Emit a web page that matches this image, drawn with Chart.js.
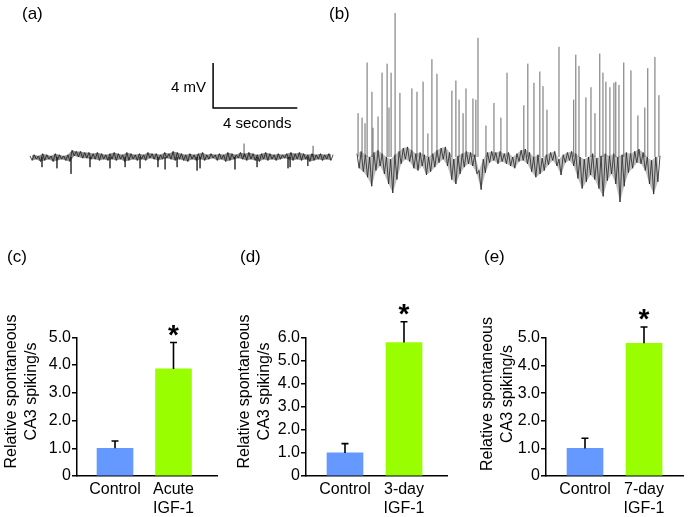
<!DOCTYPE html>
<html>
<head>
<meta charset="utf-8">
<script src="https://cdn.jsdelivr.net/npm/chart.js@4.4.0/dist/chart.umd.min.js"></script>
<style>
  body { margin: 0; background: #fff; }
  #fig { position: relative; width: 690px; height: 517px; overflow: hidden; font-family: 'Liberation Sans', Arial, sans-serif; }
  canvas { position: absolute; }
  .panel { position: absolute; font-size: 17px; line-height: 17px; color: #000; }
</style>
</head>
<body>
<div id="fig">
  <canvas id="traceA" width="315" height="220" style="left:25px;top:0"></canvas>
  <canvas id="traceB" width="320" height="220" style="left:350px;top:0"></canvas>
  <canvas id="barC" width="225" height="287" style="left:0;top:230px"></canvas>
  <canvas id="barD" width="225" height="287" style="left:230px;top:230px"></canvas>
  <canvas id="barE" width="230" height="287" style="left:460px;top:230px"></canvas>
  <div class="panel" style="left:22px;top:5px">(a)</div>
  <div class="panel" style="left:329px;top:5px">(b)</div>
  <div class="panel" style="left:7px;top:248px">(c)</div>
  <div class="panel" style="left:240px;top:248px">(d)</div>
  <div class="panel" style="left:484px;top:248px">(e)</div>
</div>
<script>
Chart.defaults.font.family = "'Liberation Sans', Arial, sans-serif";
Chart.defaults.color = '#000';

// recordings: mV against seconds, noise band read as upper / lower edge every 0.2 s
const bandStep = 0.2;

// (a) control slice
const traceATop = [0.1,0.2,0.1,0.3,0.2,0.1,0.3,0.2,0.1,0.2, 0.6,0.5,0.5,0.4,0.4,0.3,0.4,0.3,0.2,0.3,
  0.4,0.3,0.2,0.4,0.3,0.2,0.3,0.2,0.4,0.3, 0.3,0.2,0.4,0.3,0.5,0.4,0.3,0.2,0.3,0.2,
  0.3,0.4,0.2,0.3,0.2,0.3,0.2,0.4,0.3,0.2, 0.4,0.3,0.4,0.3,0.2,0.3,0.4,0.3,0.2,0.3,
  0.2,0.3,0.4,0.3,0.4,0.3,0.2,0.3,0.2,0.3, 0.2,0.3,0.2];
const traceABottom = [-0.3,-0.2,-0.4,-0.3,-0.2,-0.4,-0.3,-0.2,-0.3,-0.4, 0.1,0.0,-0.1,-0.1,-0.2,-0.2,-0.3,-0.2,-0.3,-0.2,
  -0.3,-0.2,-0.4,-0.3,-0.2,-0.3,-0.2,-0.3,-0.1,-0.2, -0.3,-0.2,-0.1,-0.2,-0.3,-0.2,-0.3,-0.4,-0.2,-0.3,
  -0.2,-0.3,-0.2,-0.1,-0.3,-0.2,-0.4,-0.3,-0.2,-0.1, -0.2,-0.3,-0.2,-0.3,-0.4,-0.2,-0.3,-0.2,-0.3,-0.2,
  -0.1,-0.2,-0.3,-0.2,-0.3,-0.2,-0.4,-0.3,-0.2,-0.3, -0.2,-0.3];
const traceASpikeT = [0.57,1.28,1.95,2.85,3.80,4.52,5.23,6.08,6.42,6.99,7.94,8.08,9.74,10.79,12.26,12.36,13.20,10.17,13.45];
const traceASpikeV = [-0.9,-1.0,-1.5,-0.9,-1.0,-0.9,-1.0,-0.9,-1.1,-0.9,-1.2,-1.0,-1.1,-0.9,-1.0,-0.9,-0.8,1.2,1.0];

// (b) IGF-1 slice
const traceBTop = [0.3,0.5,0.2,0.0,0.4,0.6,0.3,0.0,-0.2,0.2, 0.5,0.8,0.9,0.6,0.3,0.4,0.2,0.0,0.3,0.6,
  0.8,0.9,0.4,-0.2,0.1,0.3,0.5,0.4,0.2,-1.2, -0.2,0.4,0.5,0.4,0.5,0.3,0.4,0.0,0.3,0.6,
  0.7,0.4,0.0,0.2,-0.1,0.2,0.4,0.5,-0.2,0.2, 0.4,0.5,0.3,0.0,-0.2,0.0,0.3,-0.1,0.1,0.3,
  0.1,0.3,0.0,0.2,0.4,0.3,0.5,0.7,0.4,0.0, -0.3,0.0,0.1];
const traceBBottom = [-1.0,-1.3,-1.8,-2.6,-1.2,-0.8,-1.5,-2.4,-3.2,-2.0, -0.6,-0.2,-0.4,-1.0,-1.2,-0.8,-1.6,-1.3,-0.9,-0.5,
  -0.2,-0.8,-2.0,-2.4,-1.5,-0.9,-0.6,-0.8,-1.5,-2.9, -1.4,-0.5,-0.3,-0.6,-0.4,-0.6,-0.8,-1.0,-0.4,-0.3,
  -0.6,-1.3,-1.8,-1.5,-1.2,-0.7,-0.3,-0.8,-1.6,-0.5, -0.3,-0.8,-1.9,-2.8,-2.2,-1.6,-2.0,-2.8,-3.5,-2.1,
  -1.5,-2.4,-4.0,-2.6,-1.4,-1.0,-0.5,-0.6,-1.2,-2.4, -3.3,-2.2];
const traceBSpikeT = [0.05,0.24,0.38,0.48,0.71,0.76,1.00,1.19,1.43,1.52,1.62,1.81,2.04,2.61,2.85,3.14,3.37,3.56,3.80,4.51,
  4.70,4.85,5.04,5.18,5.51,5.65,5.75,6.13,6.51,6.84,7.13,7.93,8.12,8.41,8.69,8.84,9.03,9.60,10.30,10.40,
  10.55,10.88,11.12,11.31,11.54,11.69,11.83,12.02,12.21,12.30,12.45,12.68,13.02,13.35,13.68,13.82,14.16,14.35];
const traceBSpikeV = [3.9,3.5,3.0,8.4,5.8,2.6,3.6,7.5,8.3,4.4,7.5,12.8,5.7,6.1,5.8,6.7,2.1,8.7,7.4,5.9,
  6.8,5.1,3.9,6.1,5.2,5.1,10.6,2.8,4.8,3.5,7.5,4.6,8.3,6.6,7.6,6.3,4.2,9.8,5.1,9.1,
  8.1,5.3,6.2,3.9,9.2,7.5,6.7,6.2,6.6,6.7,6.4,8.4,7.7,3.7,4.4,7.9,8.9,5.5];

// scale bar: 4 s by 4 mV, corner at (8.7 s, 4.36 mV)
const scaleBarAt = [8.7, 4.36];
const scaleBarSec = 4;
const scaleBarMV = 4;

// bar panels, relative spiking
const yTitle = ['Relative spontaneous', 'CA3 spiking/s'];
const barColors = ['#6699ff', '#99ff00'];
const catsC = [['Control'], ['Acute', 'IGF-1']];
const meanC = [1.0, 3.86];
const errC = [1.26, 4.81];
const starC = [false, true];
const catsD = [['Control'], ['3-day', 'IGF-1']];
const meanD = [1.0, 5.77];
const errD = [1.40, 6.67];
const starD = [false, true];
const catsE = [['Control'], ['7-day', 'IGF-1']];
const meanE = [1.0, 4.81];
const errE = [1.37, 5.40];
const starE = [false, true];

function bandPoints(top, bottom) {
    const pts = [];
    for (let i = 0; i < top.length; i++) {
        pts.push({ x: i * bandStep, y: top[i] });
        if (i < bottom.length) pts.push({ x: i * bandStep + bandStep / 2, y: bottom[i] });
    }
    return pts;
}

function edgePoints(values, shift) {
    return values.map((v, i) => ({ x: i * bandStep + shift, y: v }));
}

function spikePoints(times, peaks) {
    const pts = [];
    times.forEach((t, i) => {
        pts.push({ x: t, y: 0 }, { x: t, y: peaks[i] }, { x: t, y: null });
    });
    return pts;
}

// filled band between the two edges plus the zig-zag line on top
function bandSets(top, bottom, fillColor, lineColor, lineWidth) {
    return [
        { data: edgePoints(top, 0), borderWidth: 0, borderColor: 'rgba(0,0,0,0)', fill: false },
        { data: edgePoints(bottom, bandStep / 2), borderWidth: 0, borderColor: 'rgba(0,0,0,0)', fill: '-1', backgroundColor: fillColor },
        { data: bandPoints(top, bottom), borderColor: lineColor, borderWidth: lineWidth, fill: false }
    ];
}

function makeTrace(id, datasets, xMin, xMax, plugins) {
    return new Chart(document.getElementById(id), {
        type: 'line',
        data: { datasets: datasets },
        options: {
            responsive: false,
            animation: false,
            events: [],
            layout: { padding: 0 },
            plugins: { legend: { display: false }, tooltip: { enabled: false } },
            elements: { point: { radius: 0 }, line: { tension: 0 } },
            scales: {
                x: { type: 'linear', min: xMin, max: xMax, display: false },
                y: { type: 'linear', min: -5.6, max: 13.96, display: false }
            }
        },
        plugins: plugins || []
    });
}

const scaleBarLabels = {
    id: 'scaleBarLabels',
    afterDraw(chart) {
        const ctx = chart.ctx, xs = chart.scales.x, ys = chart.scales.y;
        const x0 = xs.getPixelForValue(scaleBarAt[0]);
        const x1 = xs.getPixelForValue(scaleBarAt[0] + scaleBarSec);
        const y0 = ys.getPixelForValue(scaleBarAt[1]);
        const y1 = ys.getPixelForValue(scaleBarAt[1] + scaleBarMV);
        ctx.save();
        ctx.fillStyle = '#000';
        ctx.font = "15px 'Liberation Sans', Arial, sans-serif";
        ctx.textAlign = 'right';
        ctx.textBaseline = 'middle';
        ctx.fillText(scaleBarMV + ' mV', x0 - 7, (y0 + y1) / 2 + 2);
        ctx.textAlign = 'center';
        ctx.textBaseline = 'alphabetic';
        ctx.fillText(scaleBarSec + ' seconds', (x0 + x1) / 2 + 2, y0 + 20);
        ctx.restore();
    }
};

makeTrace('traceA', bandSets(traceATop, traceABottom, 'rgba(30,30,30,0.5)', '#1a1a1a', 0.8).concat([
    { data: spikePoints(traceASpikeT, traceASpikeV), borderColor: '#444', borderWidth: 0.9, spanGaps: false },
    { data: [
        { x: scaleBarAt[0], y: scaleBarAt[1] + scaleBarMV },
        { x: scaleBarAt[0], y: scaleBarAt[1] },
        { x: scaleBarAt[0] + scaleBarSec, y: scaleBarAt[1] }
      ], borderColor: '#000', borderWidth: 1.5 }
]), -0.238, 14.73, [scaleBarLabels]);

makeTrace('traceB', [
    { data: spikePoints(traceBSpikeT, traceBSpikeV), borderColor: '#5a5a5a', borderWidth: 0.9, spanGaps: false }
].concat(bandSets(traceBTop, traceBBottom, 'rgba(70,70,70,0.35)', '#111', 0.8)), -0.333, 14.876);

function errorMarks(tops, stars) {
    return {
        id: 'errorMarks',
        afterDatasetsDraw(chart) {
            const ctx = chart.ctx, ys = chart.scales.y;
            const bars = chart.getDatasetMeta(0).data;
            ctx.save();
            ctx.strokeStyle = '#000';
            ctx.fillStyle = '#000';
            ctx.lineWidth = 1.6;
            bars.forEach((bar, i) => {
                const top = ys.getPixelForValue(tops[i]);
                ctx.beginPath();
                ctx.moveTo(bar.x, bar.y);
                ctx.lineTo(bar.x, top);
                ctx.moveTo(bar.x - 3.5, top);
                ctx.lineTo(bar.x + 3.5, top);
                ctx.stroke();
                if (stars[i]) {
                    ctx.font = "bold 28px 'Liberation Sans', Arial, sans-serif";
                    ctx.textAlign = 'center';
                    ctx.textBaseline = 'alphabetic';
                    ctx.fillText('*', bar.x, top + 1);
                }
            });
            ctx.restore();
        }
    };
}

function sideTitle(lines, x, cy) {
    return {
        id: 'sideTitle',
        afterDraw(chart) {
            const ctx = chart.ctx;
            ctx.save();
            ctx.fillStyle = '#000';
            ctx.font = "16px 'Liberation Sans', Arial, sans-serif";
            ctx.textAlign = 'center';
            ctx.textBaseline = 'middle';
            lines.forEach((t, i) => {
                ctx.save();
                ctx.translate(x + i * 20, cy);
                ctx.rotate(-Math.PI / 2);
                ctx.fillText(t, 0, 0);
                ctx.restore();
            });
            ctx.restore();
        }
    };
}

function makeBars(id, cats, means, errs, stars, yMax, o) {
    return new Chart(document.getElementById(id), {
        type: 'bar',
        data: {
            datasets: [{
                data: means.map((v, i) => ({ x: i, y: v })),
                backgroundColor: barColors,
                borderWidth: 0,
                barThickness: 36
            }]
        },
        options: {
            responsive: false,
            animation: false,
            events: [],
            layout: { padding: { top: o.padTop, right: o.padRight, left: 0, bottom: 0 } },
            plugins: { legend: { display: false }, tooltip: { enabled: false } },
            scales: {
                x: {
                    type: 'linear', min: o.xMin, max: o.xMax, offset: false,
                    afterBuildTicks: s => { s.ticks = cats.map((c, i) => ({ value: i })); },
                    afterFit: s => { s.height = 41; },
                    ticks: { callback: v => cats[v], font: { size: 16 }, color: '#000', padding: 4, maxRotation: 0, autoSkip: false },
                    grid: { display: false, drawTicks: false, offset: false },
                    border: { color: '#000', width: 1.5 }
                },
                y: {
                    min: 0, max: yMax,
                    afterFit: s => { s.width = o.axisX; },
                    ticks: { stepSize: 1, callback: v => v === 0 ? '0' : v.toFixed(1), font: { size: 16 }, color: '#000', padding: 1 },
                    grid: { drawOnChartArea: false, tickLength: 5, color: '#000', lineWidth: 1.5 },
                    border: { color: '#000', width: 1.5 }
                }
            }
        },
        plugins: [errorMarks(errs, stars), sideTitle(yTitle, o.titleX, o.titleY)]
    });
}

makeBars('barC', catsC, meanC, errC, starC, 5,
    { padTop: 107.3, padRight: 8, axisX: 77, xMin: -0.65, xMax: 1.744, titleX: 12, titleY: 161.5 });
makeBars('barD', catsD, meanD, errD, starD, 6,
    { padTop: 107.3, padRight: 8, axisX: 76, xMin: -0.661, xMax: 1.729, titleX: 15, titleY: 161.5 });
makeBars('barE', catsE, meanE, errE, starE, 5,
    { padTop: 108, padRight: 7, axisX: 86, xMin: -0.661, xMax: 1.661, titleX: 28, titleY: 164 });
</script>
</body>
</html>
